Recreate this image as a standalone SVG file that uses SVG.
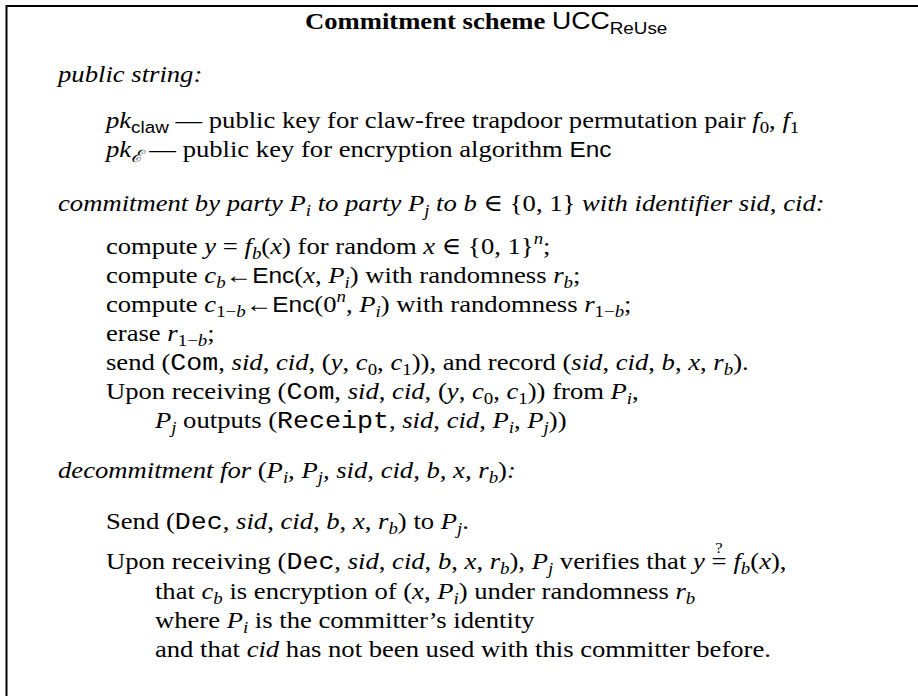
<svg xmlns="http://www.w3.org/2000/svg" width="918" height="696" viewBox="0 0 918 696">
  <style>
    text { font-family: "Liberation Serif", "DejaVu Serif", serif; font-size: 24px; fill: #000; white-space: pre; }
    .it { font-style: italic; }
    .up { font-style: normal; }
    .b { font-weight: bold; }
    .sf { font-family: "Liberation Sans", "DejaVu Sans", sans-serif; font-style: normal; font-size: 22px; }
    .tt { font-family: "Liberation Mono", "DejaVu Sans Mono", monospace; font-style: normal; }
    .sub, .sup { font-size: 17px; }
    .q { font-size: 15px; }
  </style>
  <rect width="918" height="696" fill="#fff"/>

  <!-- frame: top and left rules of the box -->
  <g id="frame" fill="none" stroke="#000" stroke-width="2">
    <path d="M6.5 696 V6 H918"/>
  </g>

  <!-- all text set in one horizontally widened group -->
  <g transform="scale(1.11 1)">
    <g id="title">
      <text x="274.8" y="29"><tspan class="b">Commitment scheme </tspan><tspan class="sf" style="font-size:24px">UCC</tspan><tspan class="sf sub" dy="5">ReUse</tspan></text>
    </g>

    <g id="public-string">
      <text class="it" x="52.3" y="82">public string:</text>
      <text x="95.5" y="128"><tspan class="it">pk</tspan><tspan class="sf sub" dy="5">claw</tspan><tspan dy="-5"> — public key for claw-free trapdoor permutation pair </tspan><tspan class="it">f</tspan><tspan class="sub" dy="5">0</tspan><tspan dy="-5">, </tspan><tspan class="it">f</tspan><tspan class="sub" dy="5">1</tspan></text>
      <text x="95.5" y="157"><tspan class="it">pk</tspan><tspan class="it sub" dy="5">ℰ</tspan><tspan dy="-5"> — public key for encryption algorithm </tspan><tspan class="sf">Enc</tspan></text>
    </g>

    <g id="commitment">
      <text class="it" x="52.3" y="211">commitment by party P<tspan class="sub" dy="5">i</tspan><tspan dy="-5"> to party P</tspan><tspan class="sub" dy="5">j</tspan><tspan dy="-5"> to b</tspan><tspan class="up"> ∈ {0, 1} </tspan>with identifier sid, cid:</text>
      <text x="95.5" y="254">compute <tspan class="it">y</tspan> = <tspan class="it">f</tspan><tspan class="it sub" dy="5">b</tspan><tspan dy="-5">(</tspan><tspan class="it">x</tspan>) for random <tspan class="it">x</tspan> ∈ {0, 1}<tspan class="it sup" dy="-10">n</tspan><tspan dy="10">;</tspan></text>
      <text x="95.5" y="283">compute <tspan class="it">c</tspan><tspan class="it sub" dy="5">b</tspan><tspan dy="-5">←</tspan><tspan class="sf">Enc</tspan>(<tspan class="it">x</tspan>, <tspan class="it">P</tspan><tspan class="it sub" dy="5">i</tspan><tspan dy="-5">) with randomness </tspan><tspan class="it">r</tspan><tspan class="it sub" dy="5">b</tspan><tspan dy="-5">;</tspan></text>
      <text x="95.5" y="312">compute <tspan class="it">c</tspan><tspan class="sub" dy="5">1−<tspan class="it">b</tspan></tspan><tspan dy="-5">←</tspan><tspan class="sf">Enc</tspan>(0<tspan class="it sup" dy="-10">n</tspan><tspan dy="10">, </tspan><tspan class="it">P</tspan><tspan class="it sub" dy="5">i</tspan><tspan dy="-5">) with randomness </tspan><tspan class="it">r</tspan><tspan class="sub" dy="5">1−<tspan class="it">b</tspan></tspan><tspan dy="-5">;</tspan></text>
      <text x="95.5" y="341">erase <tspan class="it">r</tspan><tspan class="sub" dy="5">1−<tspan class="it">b</tspan></tspan><tspan dy="-5">;</tspan></text>
      <text x="95.5" y="370">send (<tspan class="tt">Com</tspan>, <tspan class="it">sid</tspan>, <tspan class="it">cid</tspan>, (<tspan class="it">y</tspan>, <tspan class="it">c</tspan><tspan class="sub" dy="5">0</tspan><tspan dy="-5">, </tspan><tspan class="it">c</tspan><tspan class="sub" dy="5">1</tspan><tspan dy="-5">)), and record (</tspan><tspan class="it">sid</tspan>, <tspan class="it">cid</tspan>, <tspan class="it">b</tspan>, <tspan class="it">x</tspan>, <tspan class="it">r</tspan><tspan class="it sub" dy="5">b</tspan><tspan dy="-5">).</tspan></text>
      <text x="95.5" y="399">Upon receiving (<tspan class="tt">Com</tspan>, <tspan class="it">sid</tspan>, <tspan class="it">cid</tspan>, (<tspan class="it">y</tspan>, <tspan class="it">c</tspan><tspan class="sub" dy="5">0</tspan><tspan dy="-5">, </tspan><tspan class="it">c</tspan><tspan class="sub" dy="5">1</tspan><tspan dy="-5">)) from </tspan><tspan class="it">P</tspan><tspan class="it sub" dy="5">i</tspan><tspan dy="-5">,</tspan></text>
      <text x="139.6" y="428"><tspan class="it">P</tspan><tspan class="it sub" dy="5">j</tspan><tspan dy="-5"> outputs (</tspan><tspan class="tt">Receipt</tspan>, <tspan class="it">sid</tspan>, <tspan class="it">cid</tspan>, <tspan class="it">P</tspan><tspan class="it sub" dy="5">i</tspan><tspan dy="-5">, </tspan><tspan class="it">P</tspan><tspan class="it sub" dy="5">j</tspan><tspan dy="-5">))</tspan></text>
    </g>

    <g id="decommitment">
      <text class="it" x="52.3" y="478">decommitment for <tspan class="up">(</tspan>P<tspan class="sub" dy="5">i</tspan><tspan dy="-5">, P</tspan><tspan class="sub" dy="5">j</tspan><tspan dy="-5">, sid, cid, b, x, r</tspan><tspan class="sub" dy="5">b</tspan><tspan class="up" dy="-5">)</tspan>:</text>
      <text x="95.5" y="529">Send (<tspan class="tt">Dec</tspan>, <tspan class="it">sid</tspan>, <tspan class="it">cid</tspan>, <tspan class="it">b</tspan>, <tspan class="it">x</tspan>, <tspan class="it">r</tspan><tspan class="it sub" dy="5">b</tspan><tspan dy="-5">) to </tspan><tspan class="it">P</tspan><tspan class="it sub" dy="5">j</tspan><tspan dy="-5">.</tspan></text>
      <text x="95.5" y="569">Upon receiving (<tspan class="tt">Dec</tspan>, <tspan class="it">sid</tspan>, <tspan class="it">cid</tspan>, <tspan class="it">b</tspan>, <tspan class="it">x</tspan>, <tspan class="it">r</tspan><tspan class="it sub" dy="5">b</tspan><tspan dy="-5">), </tspan><tspan class="it">P</tspan><tspan class="it sub" dy="5">j</tspan><tspan dy="-5"> verifies that </tspan><tspan class="it">y</tspan> =<tspan class="q" dx="-10" dy="-16">?</tspan><tspan dx="3.6" dy="16"> </tspan><tspan class="it">f</tspan><tspan class="it sub" dy="5">b</tspan><tspan dy="-5">(</tspan><tspan class="it">x</tspan>),</text>
      <text x="139.6" y="599">that <tspan class="it">c</tspan><tspan class="it sub" dy="5">b</tspan><tspan dy="-5"> is encryption of (</tspan><tspan class="it">x</tspan>, <tspan class="it">P</tspan><tspan class="it sub" dy="5">i</tspan><tspan dy="-5">) under randomness </tspan><tspan class="it">r</tspan><tspan class="it sub" dy="5">b</tspan></text>
      <text x="139.6" y="628">where <tspan class="it">P</tspan><tspan class="it sub" dy="5">i</tspan><tspan dy="-5"> is the committer’s identity</tspan></text>
      <text x="139.6" y="657">and that <tspan class="it">cid</tspan> has not been used with this committer before.</text>
    </g>
  </g>
</svg>
